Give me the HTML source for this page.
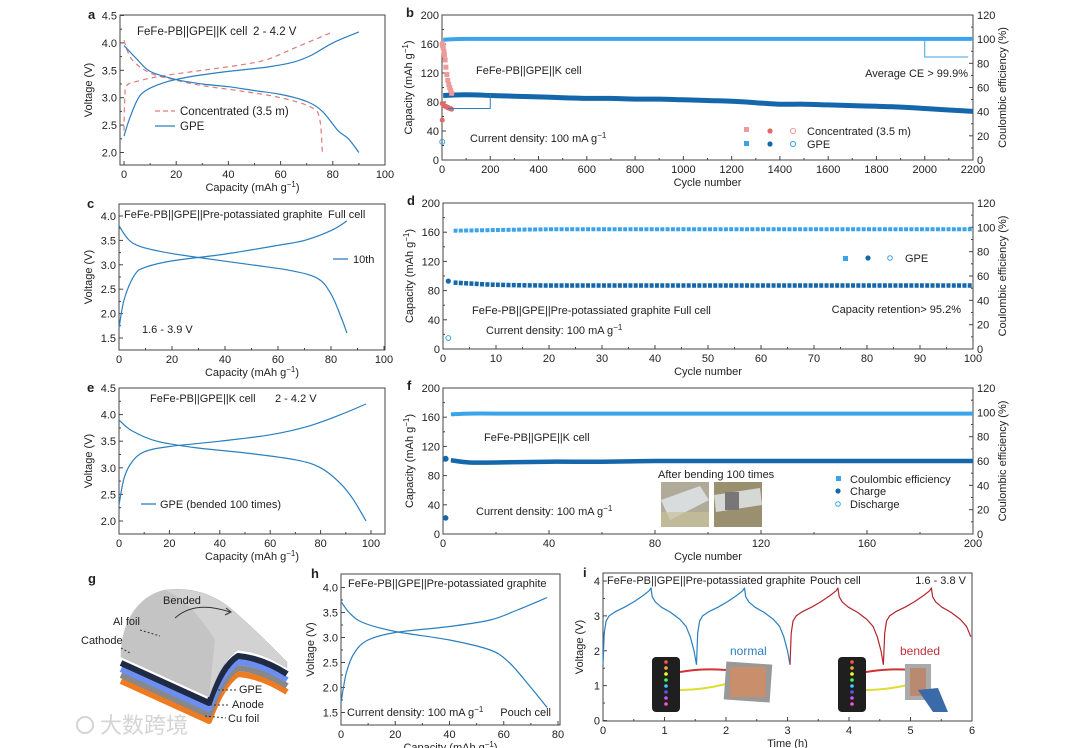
<!DOCTYPE html>
<html><head><meta charset="utf-8">
<style>
html,body{margin:0;padding:0;background:#fff;}
svg{display:block;font-family:"Liberation Sans",Arial,"Noto Sans CJK SC",sans-serif;}
text{fill:#222;}
</style></head>
<body>
<svg id="fig" width="1080" height="748" viewBox="0 0 1080 748" xmlns="http://www.w3.org/2000/svg"></svg>
<script>
// ---------- data ----------
const aGpeChgX=[0,2,5,8,15,25,40,55,65,72,80,90];
const aGpeChgY=[2.3,2.6,2.95,3.12,3.27,3.38,3.48,3.56,3.65,3.78,4.0,4.2];
const aGpeDisX=[0,5,10,20,30,40,50,60,70,76,82,86,90];
const aGpeDisY=[3.95,3.7,3.48,3.33,3.25,3.2,3.13,3.06,2.93,2.75,2.4,2.25,2.0];
const aConChgX=[0,0.3,1,5,15,30,45,55,65,80];
const aConChgY=[2.4,3.0,3.22,3.3,3.4,3.5,3.6,3.7,3.9,4.2];
const aConDisX=[0,3,10,20,30,45,60,72,75,76];
const aConDisY=[4.05,3.7,3.45,3.32,3.22,3.12,3.0,2.82,2.6,2.0];
const bCycles=[5,100,200,300,400,500,600,700,800,900,1000,1100,1200,1300,1400,1500,1600,1700,1800,1900,2000,2100,2200];
const bCap=[89,90,89,88,87,86,85,85,84,84,83,82,81,79,77,77,76,75,74,73,71,69,67];
const bCE=[166,167,167,167,167,167,167,167,167,167,167,167,167,167,167,167,167,167,167,167,167,167,167];
const bConCycles=[1,3,5,8,10,13,16,20,24,28,32,36,40];
const bConCE=[160,158,155,150,145,138,128,118,110,104,100,96,92];
const bConCap=[78,77,76,75,75,74,74,73,72,72,71,71,70];
const cChgX=[0,2,6,10,20,40,60,70,80,86];
const cChgY=[1.7,2.3,2.8,2.95,3.08,3.22,3.4,3.5,3.7,3.9];
const cDisX=[0,5,15,30,50,65,75,80,84,86];
const cDisY=[3.8,3.45,3.28,3.15,3.0,2.88,2.72,2.4,1.9,1.6];
const dCycles=[2,10,20,30,40,50,60,70,80,90,100];
const dCap=[91,88,87,87,87,87,87,87,87,87,87];
const dCE=[162,163,164,164,164,164,164,164,164,164,164];
const eChgX=[0,2,5,10,20,40,60,75,88,98];
const eChgY=[2.3,2.8,3.1,3.3,3.4,3.5,3.62,3.78,4.0,4.2];
const eDisX=[0,5,15,30,50,70,80,88,93,98];
const eDisY=[3.9,3.7,3.5,3.38,3.28,3.15,3.0,2.7,2.4,2.0];
const fCycles=[3,10,20,40,60,80,100,120,140,160,180,200];
const fCap=[101,98,98,99,99,100,100,100,100,100,100,100];
const fCE=[164,165,165,165,165,165,165,165,165,165,165,165];
const hChgX=[0,2,5,10,20,40,55,65,76];
const hChgY=[1.7,2.3,2.7,2.95,3.1,3.22,3.35,3.55,3.8];
const hDisX=[0,3,8,20,40,55,62,70,76];
const hDisY=[3.72,3.5,3.3,3.12,2.95,2.75,2.5,2.0,1.6];
const iProfT=[0,0.02,0.05,0.1,0.2,0.35,0.5,0.65,0.75,0.78,0.8,0.85,0.95,1.1,1.25,1.35,1.42,1.48,1.52];
const iProfV=[1.6,2.5,2.85,3.0,3.12,3.25,3.4,3.58,3.72,3.8,3.55,3.4,3.25,3.1,2.9,2.7,2.4,2.0,1.6];
const iStarts=[0,1.52,3.04,4.56];

// ---------- helpers ----------
const NS="http://www.w3.org/2000/svg";
const svg=document.getElementById('fig');
function el(tag,attrs,parent){const e=document.createElementNS(NS,tag);for(const k in attrs)e.setAttribute(k,attrs[k]);(parent||svg).appendChild(e);return e;}
function txt(x,y,s,size,anchor,parent,extra){const t=el('text',Object.assign({x:x,y:y,'font-size':size||11,'text-anchor':anchor||'start'},extra||{}),parent);t.textContent=s;return t;}
function lin(d0,d1,p0,p1){return v=>p0+(v-d0)*(p1-p0)/(d1-d0);}

function panel(o){
  const g=el('g',{});
  
  
  el('rect',{x:o.L,y:o.T,width:o.R-o.L,height:o.B-o.T,fill:'none',stroke:'#444','stroke-width':1},g);
  const X=lin(o.x0,o.x1,o.px0,o.px1), Y=lin(o.y0,o.y1,o.py0,o.py1);
  o.xt.forEach((v,i)=>{const x=X(v);el('line',{x1:x,x2:x,y1:o.B,y2:o.B-4,stroke:'#444'},g);
    const t=txt(x,o.B+13,String(v),11,'middle',g);
    if(i<o.xt.length-1){const xm=X((v+o.xt[i+1])/2);el('line',{x1:xm,x2:xm,y1:o.B,y2:o.B-2,stroke:'#444'},g);}});
  o.yt.forEach((v,i)=>{const y=Y(v);el('line',{x1:o.L,x2:o.L+4,y1:y,y2:y,stroke:'#444'},g);
    const t=txt(o.L-3,y+4,o.yfmt?o.yfmt(v):String(v),11,'end',g);
    if(i<o.yt.length-1){const ym=Y((v+o.yt[i+1])/2);el('line',{x1:o.L,x2:o.L+2,y1:ym,y2:ym,stroke:'#444'},g);}});
  if(o.rt){const YR=lin(0,120,o.py0,Y(200));
    o.rt.forEach((v,i)=>{const y=YR(v);el('line',{x1:o.R,x2:o.R-4,y1:y,y2:y,stroke:'#444'},g);txt(o.R+4,y+4,String(v),11,'start',g);
      if(i<o.rt.length-1){const ym=YR(v+10);el('line',{x1:o.R,x2:o.R-2,y1:ym,y2:ym,stroke:'#444'},g);}});
    const t=txt(0,0,'Coulombic efficiency (%)',11,'middle',g,{transform:`translate(${o.R+33},${(o.T+o.B)/2}) rotate(-90)`});}
  const xl=txt((o.L+o.R)/2,o.B+26,'',11,'middle',g);xl.innerHTML=o.xlab;
  const yl=txt(0,0,'',11,'middle',g,{transform:`translate(${o.L-(o.ylOff||26)},${(o.T+o.B)/2}) rotate(-90)`});yl.innerHTML=o.ylab;
  const pl=txt(o.L-(o.letOff||32),o.T+(o.letDy||4),o.letter,13,'start',g,{'font-weight':'bold'});
  return {g,X,Y};
}
function smoothPath(P){
  let d='M'+P[0][0].toFixed(1)+','+P[0][1].toFixed(1);
  for(let i=0;i<P.length-1;i++){
    const p0=P[i-1]||P[i],p1=P[i],p2=P[i+1],p3=P[i+2]||P[i+1];
    const c1=[p1[0]+(p2[0]-p0[0])/6,p1[1]+(p2[1]-p0[1])/6];
    const c2=[p2[0]-(p3[0]-p1[0])/6,p2[1]-(p3[1]-p1[1])/6];
    d+=` C${c1[0].toFixed(1)},${c1[1].toFixed(1)} ${c2[0].toFixed(1)},${c2[1].toFixed(1)} ${p2[0].toFixed(1)},${p2[1].toFixed(1)}`;
  }
  return d;
}
function curve(p,xs,ys,color,name,dash,w){
  const P=xs.map((x,i)=>[p.X(x),p.Y(ys[i])]);
  const e=el('path',{d:smoothPath(P),fill:'none',stroke:color,'stroke-width':w||1.2,'stroke-linejoin':'round'},p.g);
  if(dash)e.setAttribute('stroke-dasharray',dash);
  
  
  return e;
}
const capLab='Capacity (mAh g<tspan font-size="8" dy="-4">−1</tspan><tspan dy="4">)</tspan>';
const BLUE='#2a7fbf', LB='#3aa3ea', DB='#1467aa', RED='#e07a7a';

// ---------- panel a ----------
let a=panel({name:'panel-a',letter:'a',L:120,R:385,T:15,B:165,x0:0,x1:100,px0:124,px1:385,y0:2,y1:4.5,py0:152.5,py1:15.5,
  xt:[0,20,40,60,80,100],yt:[2.0,2.5,3.0,3.5,4.0,4.5],yfmt:v=>v.toFixed(1),xlab:capLab,ylab:'Voltage (V)',ylOff:28});
curve(a,aConChgX,aConChgY,RED,'concentrated-charge-curve','5,4');
curve(a,aConDisX,aConDisY,RED,'concentrated-discharge-curve','5,4');
curve(a,aGpeChgX,aGpeChgY,BLUE,'gpe-charge-curve');
curve(a,aGpeDisX,aGpeDisY,BLUE,'gpe-discharge-curve');
txt(137,35,'FeFe-PB||GPE||K cell',11.5,'start',a.g);txt(253,35,'2 - 4.2 V',11.5,'start',a.g);
el('line',{x1:155,x2:175,y1:111,y2:111,stroke:RED,'stroke-dasharray':'5,3','stroke-width':1.3},a.g);txt(180,115,'Concentrated (3.5 m)',11.5,'start',a.g);
el('line',{x1:155,x2:175,y1:126,y2:126,stroke:BLUE,'stroke-width':1.3},a.g);txt(180,130,'GPE',11.5,'start',a.g);

// ---------- panel b ----------
let b=panel({name:'panel-b',letter:'b',L:442,R:973,T:15,B:160,x0:0,x1:2200,px0:442,px1:973,y0:0,y1:200,py0:160,py1:15,
  xt:[0,200,400,600,800,1000,1200,1400,1600,1800,2000,2200],yt:[0,40,80,120,160,200],rt:[0,20,40,60,80,100,120],xlab:'Cycle number',ylab:capLab,ylOff:30,letOff:36,letDy:2});
curve(b,bCycles,bCE,LB,'gpe-ce-series',null,4);
curve(b,bCycles,bCap,DB,'gpe-capacity-series',null,5);
bConCycles.forEach((c,i)=>{
  const s=el('rect',{x:b.X(c)-2.5,y:b.Y(bConCE[i])-2.5,width:5,height:5,fill:'#ee9a9a'},b.g);
  
  const k=el('circle',{cx:b.X(c),cy:b.Y(bConCap[i]),r:2.5,fill:'#e06a6a'},b.g);
  
});
el('circle',{cx:b.X(1),cy:b.Y(55),r:2.5,fill:'#e06a6a'},b.g);
el('circle',{cx:b.X(1),cy:b.Y(25),r:2.5,fill:'none',stroke:LB},b.g);
el('polyline',{points:`${b.X(200)},${b.Y(91)} ${b.X(200)},${b.Y(71)} ${b.X(25)},${b.Y(71)}`,fill:'none',stroke:BLUE},b.g);
el('polyline',{points:`${b.X(2000)},${b.Y(166)} ${b.X(2000)},${b.Y(142)} ${b.X(2180)},${b.Y(142)}`,fill:'none',stroke:LB},b.g);
txt(476,74,'FeFe-PB||GPE||K cell',11,'start',b.g);
txt(968,77,'Average CE > 99.9%',11,'end',b.g);
const cd=txt(470,142,'',11,'start',b.g);cd.innerHTML='Current density: 100 mA g<tspan font-size="8" dy="-4">−1</tspan>';
el('rect',{x:744,y:127,width:5,height:5,fill:'#ee9a9a'},b.g);el('circle',{cx:770,cy:131,r:2.6,fill:'#e06a6a'},b.g);el('circle',{cx:793,cy:131,r:2.6,fill:'none',stroke:'#ee9a9a'},b.g);
txt(807,135,'Concentrated (3.5 m)',11,'start',b.g);
el('rect',{x:744,y:141,width:5,height:5,fill:LB},b.g);el('circle',{cx:770,cy:144,r:2.6,fill:DB},b.g);el('circle',{cx:793,cy:144,r:2.6,fill:'none',stroke:LB},b.g);
txt(807,148,'GPE',11,'start',b.g);

// ---------- panel c ----------
let c=panel({name:'panel-c',letter:'c',L:119,R:385,T:204,B:350,x0:0,x1:100,px0:119,px1:384,y0:1.5,y1:4.0,py0:338,py1:216,
  xt:[0,20,40,60,80,100],yt:[1.5,2.0,2.5,3.0,3.5,4.0],yfmt:v=>v.toFixed(1),xlab:capLab,ylab:'Voltage (V)',ylOff:27,letOff:32});
curve(c,cChgX,cChgY,BLUE,'charge-curve-10th');
curve(c,cDisX,cDisY,BLUE,'discharge-curve-10th');
txt(124,218,'FeFe-PB||GPE||Pre-potassiated graphite',11,'start',c.g);txt(328,218,'Full cell',11,'start',c.g);
el('line',{x1:333,x2:348,y1:259,y2:259,stroke:BLUE,'stroke-width':1.3},c.g);txt(353,263,'10th',11,'start',c.g);
txt(142,333,'1.6 - 3.9 V',11,'start',c.g);

// ---------- panel d ----------
let d=panel({name:'panel-d',letter:'d',L:443,R:973,T:203,B:349,x0:0,x1:100,px0:443,px1:973,y0:0,y1:200,py0:349,py1:203,
  xt:[0,10,20,30,40,50,60,70,80,90,100],yt:[0,40,80,120,160,200],rt:[0,20,40,60,80,100,120],xlab:'Cycle number',ylab:capLab,ylOff:30,letOff:36,letDy:2});
curve(d,dCycles,dCE,LB,'ce-series',null,4).setAttribute('stroke-dasharray','4,1.3');
curve(d,dCycles,dCap,DB,'capacity-series',null,4.5).setAttribute('stroke-dasharray','4,1.3');
el('circle',{cx:d.X(1),cy:d.Y(93),r:2.6,fill:DB},d.g);
el('circle',{cx:d.X(1),cy:d.Y(15),r:2.4,fill:'none',stroke:LB},d.g);
el('rect',{x:843,y:256,width:5,height:5,fill:LB},d.g);el('circle',{cx:868,cy:258,r:2.6,fill:DB},d.g);el('circle',{cx:890,cy:258,r:2.3,fill:'none',stroke:LB},d.g);
txt(905,262,'GPE',11,'start',d.g);
txt(472,314,'FeFe-PB||GPE||Pre-potassiated graphite   Full cell',11,'start',d.g);
const cd2=txt(486,334,'',11,'start',d.g);cd2.innerHTML='Current density: 100 mA g<tspan font-size="8" dy="-4">−1</tspan>';
txt(961,313,'Capacity retention> 95.2%',11,'end',d.g);

// ---------- panel e ----------
let e=panel({name:'panel-e',letter:'e',L:119,R:385,T:388,B:534,x0:0,x1:100,px0:119,px1:371,y0:2.0,y1:4.5,py0:521,py1:388,
  xt:[0,20,40,60,80,100],yt:[2.0,2.5,3.0,3.5,4.0,4.5],yfmt:v=>v.toFixed(1),xlab:capLab,ylab:'Voltage (V)',ylOff:27,letOff:32});
curve(e,eChgX,eChgY,BLUE,'charge-curve-bended');
curve(e,eDisX,eDisY,BLUE,'discharge-curve-bended');
txt(150,402,'FeFe-PB||GPE||K cell',11,'start',e.g);txt(275,402,'2 - 4.2 V',11,'start',e.g);
el('line',{x1:141,x2:156,y1:504,y2:504,stroke:BLUE,'stroke-width':1.3},e.g);txt(160,508,'GPE (bended 100 times)',11,'start',e.g);

// ---------- panel f ----------
let f=panel({name:'panel-f',letter:'f',L:443,R:973,T:388,B:534,x0:0,x1:200,px0:443,px1:973,y0:0,y1:200,py0:534,py1:388,
  xt:[0,40,80,120,160,200],yt:[0,40,80,120,160,200],rt:[0,20,40,60,80,100,120],xlab:'Cycle number',ylab:capLab,ylOff:30,letOff:36,letDy:2});
curve(f,fCycles,fCE,LB,'ce-series',null,4);
curve(f,fCycles,fCap,DB,'charge-discharge-series',null,4.5);
el('circle',{cx:f.X(1),cy:f.Y(103),r:3,fill:DB},f.g);
el('circle',{cx:f.X(1),cy:f.Y(22),r:2.8,fill:DB},f.g);
txt(484,441,'FeFe-PB||GPE||K cell',11,'start',f.g);
const cd3=txt(476,515,'',11,'start',f.g);cd3.innerHTML='Current density: 100 mA g<tspan font-size="8" dy="-4">−1</tspan>';
txt(658,478,'After bending 100 times',11,'start',f.g);
const ph1=el('rect',{x:661,y:482,width:48,height:45,fill:'#b0aa98'},f.g);
el('path',{d:'M661,500 L700,486 L709,500 L670,520 Z',fill:'#d8dcdc'},f.g);el('rect',{x:661,y:512,width:48,height:15,fill:'#c9c19a',opacity:0.7},f.g);
const ph2=el('rect',{x:714,y:482,width:48,height:45,fill:'#9a9070'},f.g);
el('path',{d:'M714,495 L760,488 L762,505 L716,512 Z',fill:'#d6d8d6'},f.g);el('rect',{x:725,y:492,width:14,height:18,fill:'#777'},f.g);
el('rect',{x:836,y:476,width:5,height:5,fill:LB},f.g);txt(850,483,'Coulombic efficiency',11,'start',f.g);
el('circle',{cx:838,cy:491,r:2.6,fill:DB},f.g);txt(850,495,'Charge',11,'start',f.g);
el('circle',{cx:838,cy:504,r:2.3,fill:'none',stroke:LB},f.g);txt(850,508,'Discharge',11,'start',f.g);

// ---------- panel g (schematic) ----------
const gg=el('g',{});
txt(88,583,'g',13,'start',gg,{'font-weight':'bold'});
const edge='M121,657 L209,697 Q222,660 238,650 Q262,652 287,668';
[['#f07a20',24],['#888',18],['#6b8ef0',12],['#1f2a44',6]].forEach(([col,off])=>{
  el('path',{d:edge,transform:`translate(0,${off})`,fill:'none',stroke:col,'stroke-width':6,'stroke-linejoin':'round'},gg);});
el('path',{d:'M121,657 C121,622 138,596 165,590 Q205,585 235,612 Q262,636 287,662 L287,668 Q262,652 238,650 Q222,660 209,697 Z',fill:'#d2d2d2',stroke:'#bbb','stroke-width':0.5},gg);
el('path',{d:'M121,657 C121,622 138,596 165,590 Q190,600 215,640 L209,697 Z',fill:'#c4c4c4'},gg);
el('path',{d:'M175,618 Q195,600 230,612',fill:'none',stroke:'#333'},gg);
el('path',{d:'M226,608 L231,612 L225,615',fill:'none',stroke:'#333'},gg);
txt(163,604,'Bended',11,'start',gg);txt(113,625,'Al foil',11,'start',gg);txt(81,644,'Cathode',11,'start',gg);
txt(239,693,'GPE',11,'start',gg);txt(232,708,'Anode',11,'start',gg);txt(228,722,'Cu foil',11,'start',gg);
['M140,630 L160,636','M121,648 L130,653','M214,690 L236,690','M210,705 L230,705','M205,716 L226,718'].forEach(p=>el('path',{d:p,stroke:'#333','stroke-dasharray':'2,2',fill:'none'},gg));
const wm=txt(100,733,'大数跨境',22,'start',gg,{fill:'#cfcfcf','font-family':'"Noto Sans CJK SC",sans-serif'});wm.style.fill='#d4d4d4';

el('circle',{cx:85,cy:725,r:8,fill:'none',stroke:'#d4d4d4','stroke-width':2},gg);

// ---------- panel h ----------
let h=panel({name:'panel-h',letter:'h',L:341,R:560,T:574,B:725,x0:0,x1:80,px0:341,px1:558,y0:1.5,y1:4.0,py0:712.5,py1:587.5,
  xt:[0,20,40,60,80],yt:[1.5,2.0,2.5,3.0,3.5,4.0],yfmt:v=>v.toFixed(1),xlab:capLab,ylab:'Voltage (V)',ylOff:27,letOff:30});
curve(h,hChgX,hChgY,BLUE,'charge-curve-pouch');
curve(h,hDisX,hDisY,BLUE,'discharge-curve-pouch');
txt(348,587,'FeFe-PB||GPE||Pre-potassiated graphite',11,'start',h.g);
const cd4=txt(347,716,'',11,'start',h.g);cd4.innerHTML='Current density: 100 mA g<tspan font-size="8" dy="-4">−1</tspan>';
txt(551,716,'Pouch cell',11,'end',h.g);

// ---------- panel i ----------
let ip=panel({name:'panel-i',letter:'i',L:603,R:972,T:573,B:721,x0:0,x1:6,px0:603,px1:972,y0:0,y1:4,py0:720.5,py1:581,
  xt:[0,1,2,3,4,5,6],yt:[0,1,2,3,4],xlab:'Time (h)',ylab:'Voltage (V)',ylOff:20,letOff:20});
iStarts.forEach((s,k)=>{
  const P=iProfT.map((t,j)=>[ip.X(t+s),ip.Y(iProfV[j])]).filter(p=>p[0]<=973);
  const e2=el('polyline',{points:P.map(p=>p[0].toFixed(1)+','+p[1].toFixed(1)).join(' '),fill:'none',stroke:k<2?BLUE:'#b3262e','stroke-width':1.2,'stroke-linejoin':'round'},ip.g);
  
  
});
txt(607,584,'FeFe-PB||GPE||Pre-potassiated graphite',11,'start',ip.g);txt(810,584,'Pouch cell',11,'start',ip.g);txt(966,584,'1.6 - 3.8 V',11,'end',ip.g);
const nt=txt(730,655,'normal',12,'start',ip.g);nt.style.fill=BLUE;
const bt=txt(900,655,'bended',12,'start',ip.g);bt.style.fill='#c0303a';
[[652,680],[838,866]].forEach(([x0,x1],k)=>{
  const ph=el('g',{},ip.g);
  el('rect',{x:x0,y:657,width:28,height:55,rx:4,fill:'#1f1f1f'},ph);
  ['#f55','#fa3','#ff3','#4f4','#4cf','#55f','#c5f','#f5c'].forEach((cl,j)=>el('circle',{cx:x0+14,cy:662+j*6,r:1.8,fill:cl},ph));
  el('path',{d:`M${x0+28},672 Q${x0+50},668 ${x0+74},670`,stroke:'#c33',fill:'none','stroke-width':2},ph);
  el('path',{d:`M${x0+28},690 Q${x0+50},690 ${x0+74},684`,stroke:'#dd3',fill:'none','stroke-width':2},ph);
  if(k===0){el('rect',{x:x0+73,y:663,width:46,height:38,fill:'#999',transform:`rotate(4 ${x0+96} 682)`},ph);el('rect',{x:x0+78,y:667,width:36,height:30,fill:'#c98f6c'},ph);}
  else{el('rect',{x:x0+67,y:664,width:26,height:36,fill:'#aaa'},ph);el('rect',{x:x0+72,y:668,width:16,height:28,fill:'#b98a70'},ph);el('path',{d:`M${x0+80},690 L${x0+95},712 L${x0+110},712 L${x0+100},688 Z`,fill:'#3b6aa8'},ph);}
});
</script>
</body></html>
